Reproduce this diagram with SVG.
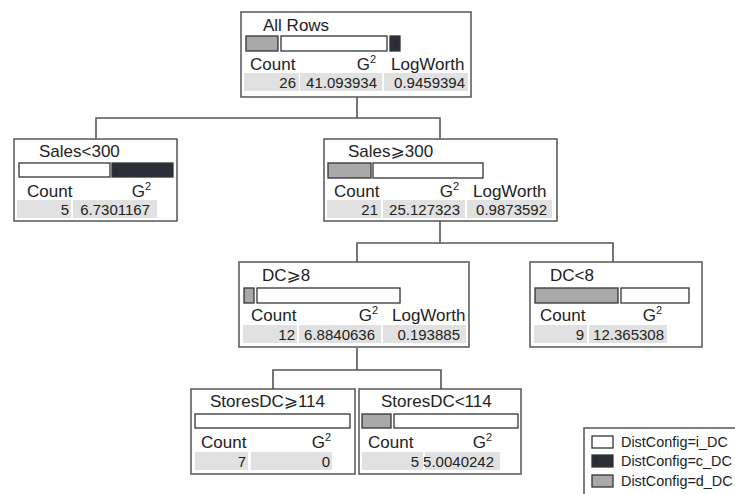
<svg xmlns="http://www.w3.org/2000/svg" width="735" height="494" viewBox="0 0 735 494">
  <style>
    text { font-family: "Liberation Sans", Arial, "DejaVu Sans", sans-serif; fill: #222; }
    .box { fill: #fff; stroke: #555; stroke-width: 1.5; }
    .title { font-size: 17px; }
    .hdr { font-size: 17px; }
    .val { font-size: 15px; text-anchor: end; }
    .end { text-anchor: end; }
    .cell { fill: #e1e1e1; }
    .bar { stroke: #333; stroke-width: 1.3; }
    .w { fill: #fff; }
    .g { fill: #a9a9a9; }
    .k { fill: #2b2e36; }
    .sup { font-size: 11px; }
    .conn { fill: none; stroke: #555; stroke-width: 1.6; }
    .leg { font-size: 14.4px; }
  </style>

  <g id="connectors">
    <path class="conn" d="M357 97 V118 M96 139 V118 H440 V139"/>
    <path class="conn" d="M440 221 V243 M357 262 V243 H613 V262"/>
    <path class="conn" d="M357 348 V370 M273 389 V370 H441 V389"/>
  </g>

  <g id="node-all-rows">
    <rect class="box" x="241" y="12" width="230" height="85"/>
    <text class="title" x="263" y="31">All Rows</text>
    <rect class="bar g" x="246" y="36" width="32" height="15"/>
    <rect class="bar w" x="281" y="36" width="106" height="15"/>
    <rect class="bar k" x="390" y="36" width="10" height="15"/>
    <text class="hdr" x="250" y="70">Count</text>
    <text class="hdr end" x="376" y="70">G<tspan class="sup" dy="-7">2</tspan></text>
    <text class="hdr" x="391" y="70">LogWorth</text>
    <rect class="cell" x="244" y="73" width="55" height="18"/>
    <rect class="cell" x="300" y="73" width="82" height="18"/>
    <rect class="cell" x="384" y="73" width="84" height="18"/>
    <text class="val" x="296" y="88">26</text>
    <text class="val" x="377" y="88">41.093934</text>
    <text class="val" x="465" y="88">0.9459394</text>
  </g>

  <g id="node-sales-lt-300">
    <rect class="box" x="14" y="139" width="163" height="82"/>
    <text class="title" x="39" y="157">Sales&lt;300</text>
    <rect class="bar w" x="19" y="163" width="91" height="14"/>
    <rect class="bar k" x="112" y="163" width="61" height="14"/>
    <text class="hdr" x="27" y="197">Count</text>
    <text class="hdr end" x="151" y="197">G<tspan class="sup" dy="-7">2</tspan></text>
    <rect class="cell" x="17" y="200" width="54" height="18"/>
    <rect class="cell" x="73" y="200" width="84" height="18"/>
    <text class="val" x="69" y="215">5</text>
    <text class="val" x="150" y="215">6.7301167</text>
  </g>

  <g id="node-sales-ge-300">
    <rect class="box" x="324" y="139" width="233" height="82"/>
    <text class="title" x="348" y="157">Sales⩾300</text>
    <rect class="bar g" x="328" y="163" width="43" height="15"/>
    <rect class="bar w" x="373" y="163" width="110" height="15"/>
    <text class="hdr" x="334" y="197">Count</text>
    <text class="hdr end" x="459" y="197">G<tspan class="sup" dy="-7">2</tspan></text>
    <text class="hdr" x="473" y="197">LogWorth</text>
    <rect class="cell" x="327" y="200" width="54" height="18"/>
    <rect class="cell" x="383" y="200" width="82" height="18"/>
    <rect class="cell" x="467" y="200" width="85" height="18"/>
    <text class="val" x="378" y="215">21</text>
    <text class="val" x="460" y="215">25.127323</text>
    <text class="val" x="547" y="215">0.9873592</text>
  </g>

  <g id="node-dc-ge-8">
    <rect class="box" x="239" y="262" width="230" height="85"/>
    <text class="title" x="262" y="281">DC⩾8</text>
    <rect class="bar g" x="244" y="288" width="10" height="15"/>
    <rect class="bar w" x="257" y="288" width="143" height="15"/>
    <text class="hdr" x="251" y="321">Count</text>
    <text class="hdr end" x="378" y="321">G<tspan class="sup" dy="-7">2</tspan></text>
    <text class="hdr" x="392" y="321">LogWorth</text>
    <rect class="cell" x="243" y="325" width="54" height="18"/>
    <rect class="cell" x="299" y="325" width="82" height="18"/>
    <rect class="cell" x="383" y="325" width="83" height="18"/>
    <text class="val" x="295" y="340">12</text>
    <text class="val" x="375" y="340">6.8840636</text>
    <text class="val" x="460" y="340">0.193885</text>
  </g>

  <g id="node-dc-lt-8">
    <rect class="box" x="530" y="262" width="172" height="85"/>
    <text class="title" x="550" y="281">DC&lt;8</text>
    <rect class="bar g" x="535" y="288" width="83" height="15"/>
    <rect class="bar w" x="621" y="288" width="68" height="15"/>
    <text class="hdr" x="540" y="321">Count</text>
    <text class="hdr end" x="662" y="321">G<tspan class="sup" dy="-7">2</tspan></text>
    <rect class="cell" x="534" y="325" width="53" height="18"/>
    <rect class="cell" x="589" y="325" width="78" height="18"/>
    <text class="val" x="584" y="340">9</text>
    <text class="val" x="664" y="340">12.365308</text>
  </g>

  <g id="node-storesdc-ge-114">
    <rect class="box" x="191" y="389" width="164" height="85"/>
    <text class="title" x="210" y="407">StoresDC⩾114</text>
    <rect class="bar w" x="195" y="414" width="155" height="14"/>
    <text class="hdr" x="201" y="448">Count</text>
    <text class="hdr end" x="331" y="448">G<tspan class="sup" dy="-7">2</tspan></text>
    <rect class="cell" x="195" y="452" width="53" height="18"/>
    <rect class="cell" x="251" y="452" width="81" height="18"/>
    <text class="val" x="246" y="467">7</text>
    <text class="val" x="330" y="467">0</text>
  </g>

  <g id="node-storesdc-lt-114">
    <rect class="box" x="359" y="389" width="162" height="85"/>
    <text class="title" x="381" y="407">StoresDC&lt;114</text>
    <rect class="bar g" x="362" y="414" width="29" height="14"/>
    <rect class="bar w" x="394" y="414" width="124" height="14"/>
    <text class="hdr" x="368" y="448">Count</text>
    <text class="hdr end" x="492" y="448">G<tspan class="sup" dy="-7">2</tspan></text>
    <rect class="cell" x="362" y="452" width="61" height="18"/>
    <rect class="cell" x="425" y="452" width="75" height="18"/>
    <text class="val" x="419" y="467">5</text>
    <text class="val" x="494" y="467">5.0040242</text>
  </g>

  <g id="legend">
    <rect class="box" x="584" y="428" width="170" height="80"/>
    <rect class="bar w" x="592" y="436" width="21" height="12"/>
    <rect class="bar k" x="592" y="455" width="21" height="12"/>
    <rect class="bar g" x="592" y="475" width="21" height="12"/>
    <text class="leg" x="621" y="447">DistConfig=i_DC</text>
    <text class="leg" x="621" y="466">DistConfig=c_DC</text>
    <text class="leg" x="621" y="486">DistConfig=d_DC</text>
  </g>
</svg>
